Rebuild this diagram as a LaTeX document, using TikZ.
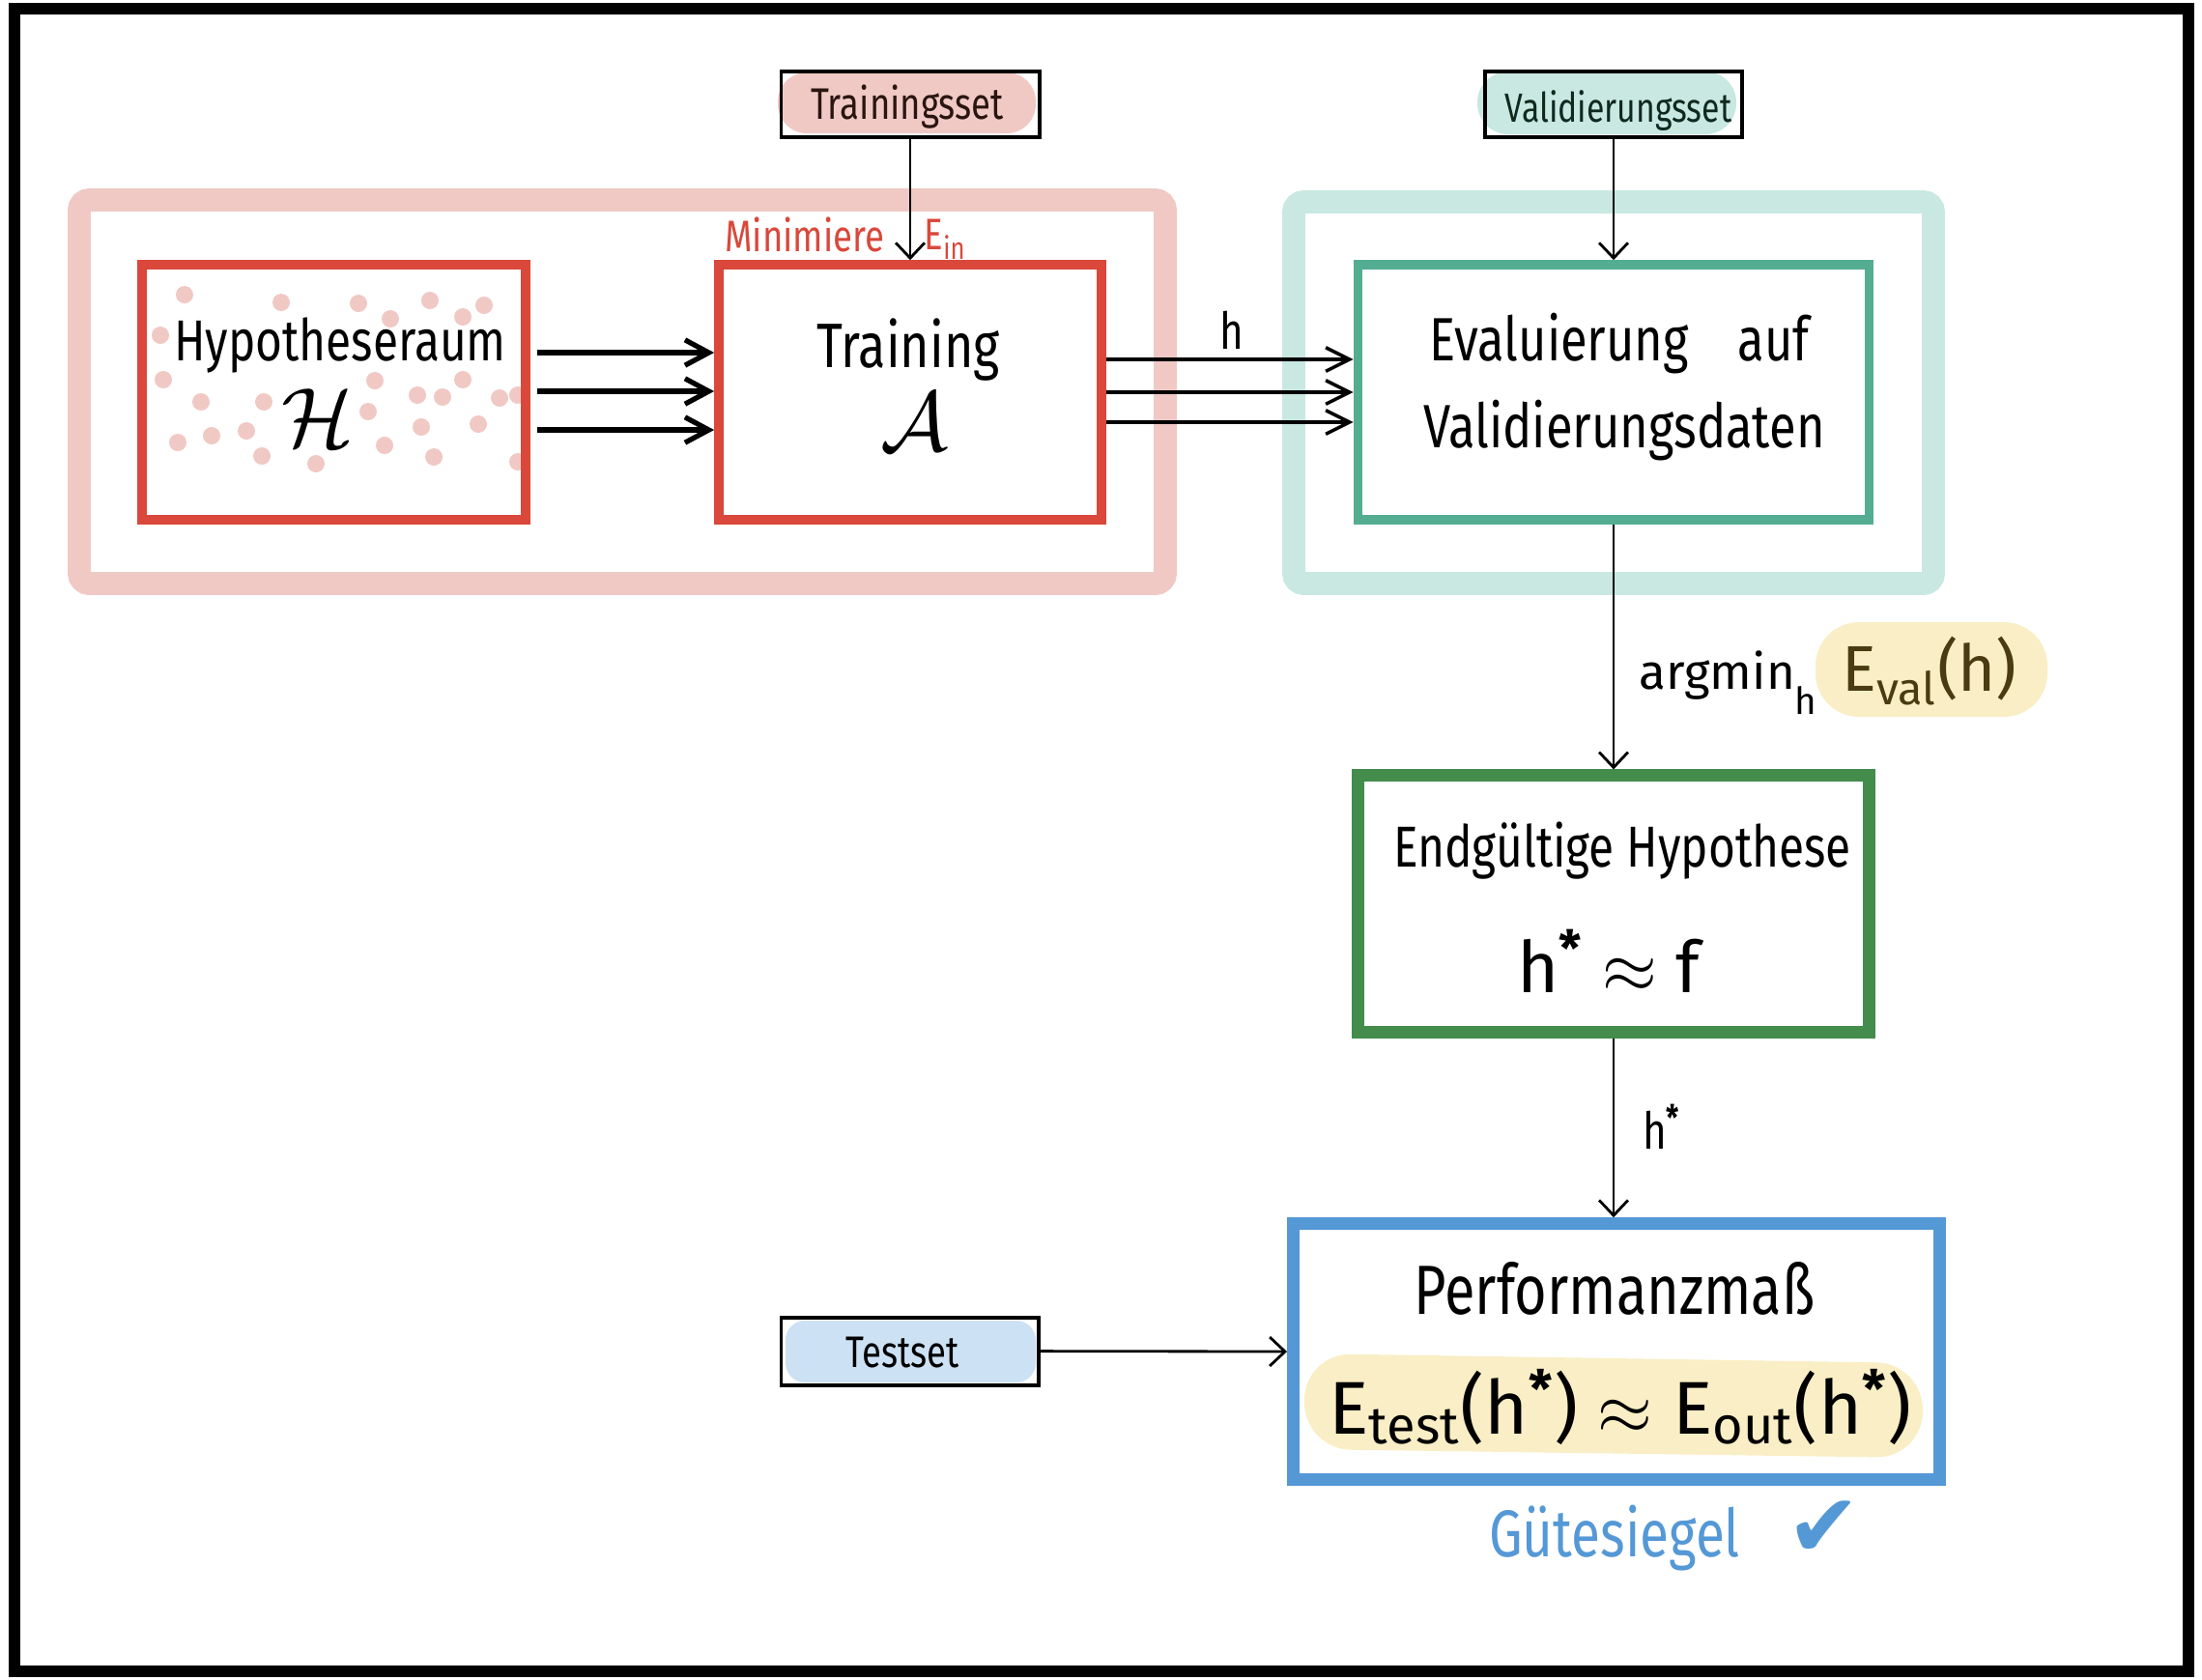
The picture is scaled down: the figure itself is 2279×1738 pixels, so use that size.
\documentclass[tikz,border=0pt]{standalone}
\usepackage{fontspec}
\setmainfont{Fira Sans}[FakeStretch=0.8]
\newfontfamily\widefont{Fira Sans}
\newfontfamily\symfont{DejaVu Sans}
\usetikzlibrary{arrows.meta}
\definecolor{pinkfr}{HTML}{F0C9C4}
\definecolor{redbx}{HTML}{D9483B}
\definecolor{tealfr}{HTML}{C8E8E1}
\definecolor{tealbx}{HTML}{54AD91}
\definecolor{greenbx}{HTML}{438C4B}
\definecolor{bluebx}{HTML}{5598D6}
\definecolor{yellowhl}{HTML}{F9EEC5}
\definecolor{bluepill}{HTML}{CCE1F3}
\definecolor{evaltxt}{HTML}{4A3B12}
\definecolor{tsettxt}{HTML}{2A1510}
\definecolor{vsettxt}{HTML}{10291F}
\newcommand{\fsz}[1]{\fontsize{#1}{#1}\selectfont}
\begin{document}
\begin{tikzpicture}[x=0.01cm,y=-0.01cm,
  txt/.style={inner sep=0pt, anchor=base},
  conn/.style={line width=0.8pt, -{Straight Barb[length=4.5pt,width=8.5pt,line width=0.8pt]}},
  thickconn/.style={line width=1.5pt, shorten <=2pt, -{Straight Barb[length=7pt,width=7.5pt,line width=1.5pt]}},
  medconn/.style={line width=1pt, -{Straight Barb[length=7pt,width=7pt,line width=1pt]}},
  bigframe/.style={line width=6.8pt, rounded corners=3pt},
  mainbox/.style={line width=2.7pt, minimum height=2.64cm, inner sep=0pt},
  setbox/.style={draw=black, line width=1.1pt, minimum width=2.67cm, minimum height=0.68cm, inner sep=0pt},
]
\useasboundingbox (0,0) rectangle (2279,1738);
% outer frame
\draw[line width=3.4pt] (15,9) rectangle (2265,1730);
% big frames
\draw[bigframe, draw=pinkfr] (82,207) rectangle (1206,604);
\draw[bigframe, draw=tealfr] (1339,209) rectangle (2001,604);
% dots in hypothesis space
\foreach \p in {(191,305),(291,313),(371,314),(445,311),(501,316),(404,330),(479,328),
  (166,347),(169,393),(388,394),(479,393),(432,409),(458,411),(517,412),(536,409),
  (208,416),(273,416),(381,426),(184,458),(219,451),(255,446),(271,472),(327,480),
  (398,461),(436,442),(495,439),(449,473),(536,478)}
  \fill[pinkfr] \p circle[radius=9];
% main boxes
\node[mainbox, draw=redbx, minimum width=3.97cm] (hyp) at (345.5,406) {};
\node[mainbox, draw=redbx, minimum width=3.96cm] (train) at (942,406) {};
\node[mainbox, draw=tealbx, minimum width=5.29cm] (eval) at (1670,406) {};
\node[draw=greenbx, line width=3.7pt, minimum width=5.285cm, minimum height=2.65cm, inner sep=0pt] (endg) at (1670,935.5) {};
\node[draw=bluebx, line width=3.7pt, minimum width=6.686cm, minimum height=2.645cm, inner sep=0pt] (perf) at (1673,1399) {};
% pills
\fill[pinkfr, rounded corners=0.3cm] (805,75) rectangle (1072,138);
\fill[tealfr, rounded corners=0.32cm] (1529,74) rectangle (1797,139);
\fill[bluepill, rounded corners=0.2cm] (813,1367) rectangle (1072,1431);
\fill[yellowhl, rounded corners=0.45cm] (1879,644) rectangle (2119,742);
\fill[yellowhl, rounded corners=0.48cm] (1350,1401) -- (1990,1411) -- (1990,1509) -- (1350,1500) -- cycle;
% set boxes
\node[setbox] (tset) at (942,108) {};
\node[setbox, minimum width=2.66cm] (vset) at (1670,108) {};
\node[setbox, minimum width=2.66cm, minimum height=0.70cm] (testset) at (941.6,1398.6) {};
% texts
\node[txt] (tsetlbl) at (939,123) {\fsz{13}\color{tsettxt}Trainingsset};
\node[txt] (vsetlbl) at (1675,126) {\fsz{12}\color{vsettxt}Validierungsset};
\node[txt] (testlbl) at (934,1415) {\fsz{13}Testset};
\node[txt] (minlbl) at (833,260) {\fsz{13}\color{redbx}Minimiere};
\node[txt, anchor=base west] (einlbl) at (956,258) {\fsz{13}\color{redbx}E\textsubscript{in}};
\node[txt] (hyplbl) at (352,373) {\fsz{17}Hypotheseraum};
\node[txt] (hcal) at (329,462) {\fsz{23}$\mathcal{H}$};
\node[txt] (trainlbl) at (940,380) {\fsz{18.5}Training};
\node[txt] (acal) at (946,466) {\fsz{24}$\mathcal{A}$};
\node[txt] (evallbl1) at (1676,373) {\fsz{18}Evaluierung\hspace{0.8em}auf};
\node[txt] (evallbl2) at (1681,463) {\fsz{18}Validierungsdaten};
\node[txt] (hlbl) at (1275,361) {\fsz{15}h};
\node[txt, anchor=base west] (argminlbl) at (1696,713) {\widefont\fsz{14.5}argmin\raisebox{-7.5pt}{\fsz{11}h}};
\node[txt] (evalh) at (1997,715) {\widefont\fsz{19}\color{evaltxt}E\textsubscript{val}(h)};
\node[txt] (endglbl) at (1679,897) {\fsz{17}Endgültige Hypothese};
\node[txt] (hstarf) at (1665,1027) {\widefont\fsz{21}h\textsuperscript{\textbf{*}} $\approx$ f};
\node[txt] (hstarlbl) at (1720,1189) {\fsz{15}h\textsuperscript{\textbf{*}}};
\node[txt] (perflbl) at (1671,1360) {\fsz{20.5}Performanzmaß};
\node[txt] (formula) at (1677,1484) {\widefont\fsz{22}E\textsubscript{test}(h\textsuperscript{\textbf{*}}) $\approx$ E\textsubscript{out}(h\textsuperscript{\textbf{*}})};
\node[txt] (guete) at (1671,1611) {\fsz{19.5}\color{bluebx}Gütesiegel};
\node[txt] (check) at (1888,1611) {\fsz{26}\color{bluebx}\symfont ✔};
% connectors
\coordinate (r1) at (0,365);
\coordinate (r2) at (0,405);
\coordinate (r3) at (0,445);
\coordinate (s1) at (0,372);
\coordinate (s2) at (0,406);
\coordinate (s3) at (0,437);
\draw[thickconn] (hyp.east |- r1) -- (train.west |- r1);
\draw[thickconn] (hyp.east |- r2) -- (train.west |- r2);
\draw[thickconn] (hyp.east |- r3) -- (train.west |- r3);
\draw[medconn] (train.east |- s1) -- (eval.west |- s1);
\draw[medconn] (train.east |- s2) -- (eval.west |- s2);
\draw[medconn] (train.east |- s3) -- (eval.west |- s3);
\draw[conn] (tset.south) -- (train.north);
\draw[conn] (vset.south) -- (eval.north);
\draw[conn] (eval.south) -- (endg.north);
\draw[conn] (endg.south) -- (endg.south |- perf.north);
\draw[conn] (testset.east) -- (perf.west);
\end{tikzpicture}
\end{document}
